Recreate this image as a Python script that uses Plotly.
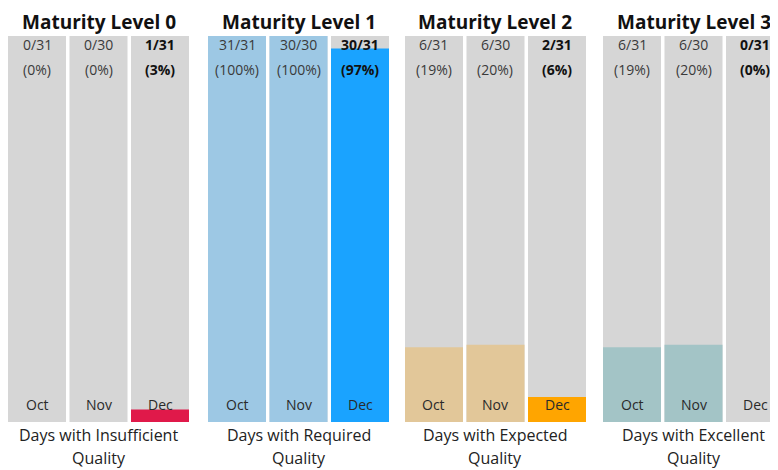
import plotly.graph_objects as go

months = ["Oct", "Nov", "Dec"]
levels = ["Maturity Level 0", "Maturity Level 1", "Maturity Level 2", "Maturity Level 3"]
bottom_line1 = ["Days with Insufficient", "Days with Required", "Days with Expected", "Days with Excellent"]
bottom_line2 = ["Quality", "Quality", "Quality", "Quality"]
days_total = [31, 30, 31]
days_level0 = [0, 0, 1]
days_level1 = [31, 30, 30]
days_level2 = [6, 6, 2]
days_level3 = [6, 6, 0]
level_days = [days_level0, days_level1, days_level2, days_level3]
level_colors = [
    ["#e0194a", "#e0194a", "#e0194a"],
    ["#9dc8e4", "#9dc8e4", "#1aa3ff"],
    ["#e2c799", "#e2c799", "#ffa500"],
    ["#a3c4c6", "#a3c4c6", "#a3c4c6"],
]
BG = "#d6d6d6"
FONT = "Open Sans"
OFF = 8  # page body margin
W, H = 778 - OFF, 470 - OFF

# panel pixel geometry (page coordinates, shifted by OFF)
pitch = 61.5
panel_left = [p - OFF for p in (6.25, 206.25, 403.25, 601.25)]
bar_w = 58 / 61.5
y_top_px, y_bot_px = 36 - OFF, 422 - OFF

fig = go.Figure()
annotations = []
layout_axes = {}
for i in range(4):
    sfx = "" if i == 0 else str(i + 1)
    xa, ya = "x" + sfx, "y" + sfx
    full_left = panel_left[i]
    left = max(full_left, 0)
    right = min(full_left + 3 * pitch, W)
    rng_lo = -0.5 + (left - full_left) / pitch
    rng_hi = -0.5 + (right - full_left) / pitch
    layout_axes["xaxis" + sfx] = dict(
        domain=[left / W, right / W], range=[rng_lo, rng_hi], type="category",
        categoryorder="array", categoryarray=months, anchor=ya,
        showgrid=False, zeroline=False, showticklabels=False, showline=False, fixedrange=True)
    layout_axes["yaxis" + sfx] = dict(
        domain=[(H - y_bot_px) / H, (H - y_top_px) / H], range=[0, 1],
        showgrid=False, zeroline=False, showticklabels=False, showline=False,
        anchor=xa, fixedrange=True)

    pct = [d / t for d, t in zip(level_days[i], days_total)]
    fig.add_trace(go.Bar(x=months, y=[1, 1, 1], width=bar_w, marker_color=BG,
                         marker_line_width=0, xaxis=xa, yaxis=ya, hoverinfo="skip",
                         showlegend=False))
    fig.add_trace(go.Bar(x=months, y=pct, width=bar_w, marker_color=level_colors[i],
                         marker_line_width=0, xaxis=xa, yaxis=ya, showlegend=False))

    for j, m in enumerate(months):
        d, t = level_days[i][j], days_total[j]
        p = round(100 * d / t)
        bold = j == 2
        t1 = f"{d}/{t}"
        t2 = f"({p}%)"
        if bold:
            t1, t2 = f"<b>{t1}</b>", f"<b>{t2}</b>"
        col = "#111111" if bold else "#3a3a3a"
        for txt, ypx in ((t1, 45 - OFF), (t2, 70 - OFF)):
            annotations.append(dict(x=m, y=(y_bot_px - ypx) / (y_bot_px - y_top_px),
                                    xref=xa, yref=ya, text=txt, showarrow=False,
                                    font=dict(family=FONT, size=14, color=col),
                                    xanchor="center", yanchor="middle"))
        annotations.append(dict(x=m, y=(y_bot_px - (404 - OFF)) / (y_bot_px - y_top_px),
                                xref=xa, yref=ya, text=m, showarrow=False,
                                font=dict(family=FONT, size=14, color="#2a2a2a"),
                                xanchor="center", yanchor="middle"))

    cx = (full_left + 3 * pitch / 2) / W
    annotations.append(dict(x=cx, y=1, xref="paper", yref="paper",
                            text=f"<b>{levels[i]}</b>", showarrow=False,
                            font=dict(family=FONT, size=19, color="#111111"),
                            xanchor="center", yanchor="top", borderpad=0))
    for txt, ypx in ((bottom_line1[i], 435 - OFF), (bottom_line2[i], 458 - OFF)):
        annotations.append(dict(x=cx, y=(H - ypx) / H, xref="paper", yref="paper",
                                text=txt, showarrow=False,
                                font=dict(family=FONT, size=16, color="#222222"),
                                xanchor="center", yanchor="middle"))

fig.update_layout(
    width=W, height=H, margin=dict(l=0, r=0, t=0, b=0),
    paper_bgcolor="white", plot_bgcolor="white", barmode="overlay",
    annotations=annotations, **layout_axes)

fig.write_html("out.html")
